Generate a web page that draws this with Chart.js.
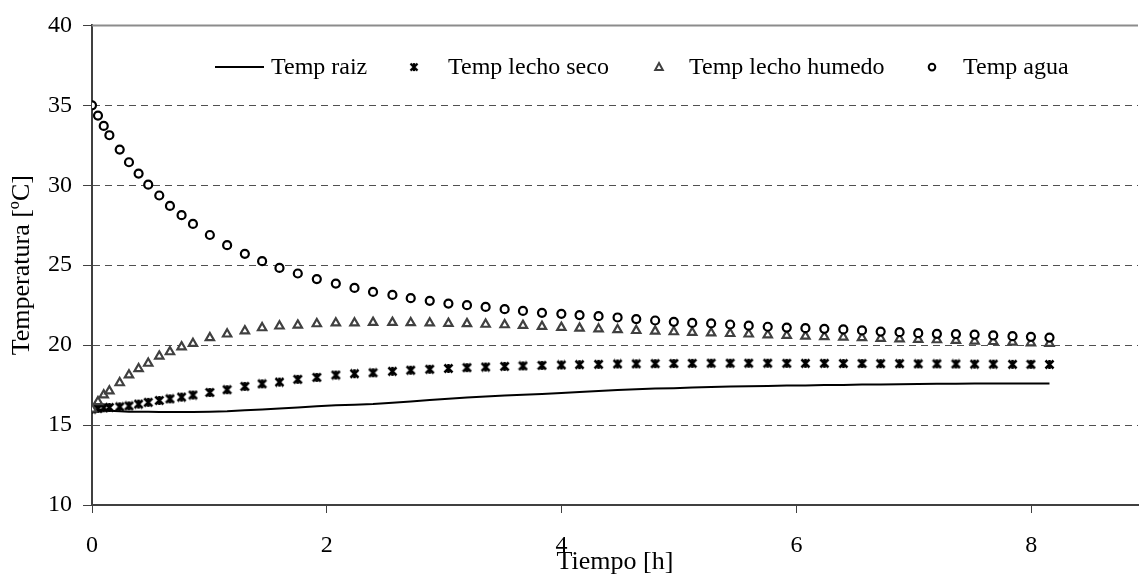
<!DOCTYPE html>
<html>
<head>
<meta charset="utf-8">
<script src="https://cdn.jsdelivr.net/npm/chart.js@4/dist/chart.umd.min.js"></script>
<style>
  html, body { margin: 0; padding: 0; background: #ffffff; overflow: hidden; width: 1139px; height: 576px; }
  #wrap { width: 1145px; height: 576px; position: relative; }
</style>
</head>
<body>
<div id="wrap"><canvas id="c"></canvas></div>
<script>
// ---- data ----
const tiempo = [0, 0.051, 0.10, 0.148, 0.236, 0.315, 0.397, 0.479, 0.573, 0.664, 0.763, 0.86,
  1.004, 1.151, 1.302, 1.449, 1.597, 1.753, 1.915, 2.077, 2.236, 2.394, 2.559, 2.715,
  2.877, 3.036, 3.194, 3.353, 3.515, 3.671, 3.833, 3.998, 4.153, 4.315, 4.477, 4.636,
  4.797, 4.956, 5.113, 5.274, 5.436, 5.594, 5.756, 5.918, 6.077, 6.238, 6.4, 6.559,
  6.718, 6.879, 7.038, 7.197, 7.359, 7.518, 7.677, 7.841, 7.998, 8.156];

const tempRaiz = [16.0, 15.97, 15.93, 15.9, 15.86, 15.84, 15.83, 15.83, 15.82, 15.82, 15.82, 15.82,
  15.83, 15.86, 15.92, 15.98, 16.04, 16.1, 16.17, 16.24, 16.27, 16.32, 16.4, 16.48,
  16.57, 16.64, 16.72, 16.79, 16.85, 16.9, 16.94, 17.0, 17.07, 17.13, 17.2, 17.24,
  17.28, 17.31, 17.35, 17.38, 17.41, 17.43, 17.45, 17.47, 17.48, 17.5, 17.51, 17.53,
  17.54, 17.56, 17.57, 17.58, 17.59, 17.6, 17.6, 17.6, 17.6, 17.6];

const tempLechoSeco = [16.0, 16.04, 16.08, 16.1, 16.14, 16.2, 16.31, 16.42, 16.54, 16.64, 16.75, 16.88,
  17.04, 17.21, 17.42, 17.58, 17.69, 17.86, 17.98, 18.13, 18.21, 18.27, 18.36, 18.43,
  18.49, 18.54, 18.59, 18.63, 18.67, 18.7, 18.73, 18.76, 18.78, 18.8, 18.82, 18.83,
  18.84, 18.85, 18.86, 18.87, 18.87, 18.87, 18.87, 18.86, 18.86, 18.86, 18.85, 18.85,
  18.84, 18.84, 18.83, 18.83, 18.82, 18.81, 18.81, 18.8, 18.8, 18.79];

const tempLechoHumedo = [16.0, 16.46, 16.88, 17.13, 17.64, 18.13, 18.52, 18.86, 19.31, 19.58, 19.89, 20.1,
  20.46, 20.69, 20.89, 21.08, 21.19, 21.25, 21.33, 21.38, 21.38, 21.42, 21.42, 21.4,
  21.38, 21.36, 21.34, 21.3, 21.27, 21.23, 21.17, 21.11, 21.06, 21.01, 20.96, 20.91,
  20.87, 20.83, 20.79, 20.76, 20.72, 20.69, 20.64, 20.6, 20.56, 20.53, 20.5, 20.46,
  20.42, 20.39, 20.36, 20.33, 20.29, 20.25, 20.22, 20.18, 20.14, 20.1];

const tempAgua = [35.0, 34.36, 33.71, 33.13, 32.23, 31.44, 30.73, 30.04, 29.36, 28.71, 28.13, 27.58,
  26.89, 26.25, 25.71, 25.25, 24.83, 24.48, 24.13, 23.85, 23.58, 23.33, 23.14, 22.94,
  22.77, 22.6, 22.5, 22.39, 22.25, 22.14, 22.02, 21.96, 21.88, 21.81, 21.73, 21.63,
  21.54, 21.46, 21.39, 21.36, 21.29, 21.22, 21.15, 21.1, 21.06, 21.02, 20.98, 20.92,
  20.85, 20.81, 20.75, 20.71, 20.69, 20.66, 20.61, 20.56, 20.52, 20.47];

const seriesNames = ['Temp raiz', 'Temp lecho seco', 'Temp lecho humedo', 'Temp agua'];
const xTicks = [0, 2, 4, 6, 8];
const yTicks = [10, 15, 20, 25, 30, 35, 40];
const xTitle = 'Tiempo [h]';
const yTitle = 'Temperatura [ºC]';

// ---- styles ----
const FONT = '"Liberation Serif", "Times New Roman", serif';
const AXIS_COLOR = '#404040';

function makeStar(size, lw, color) {
  const c = document.createElement('canvas');
  c.width = size; c.height = size;
  const g = c.getContext('2d');
  g.strokeStyle = color; g.lineWidth = lw; g.lineCap = 'butt';
  const p = 1.5, q = size - 1.5, m = size / 2;
  g.beginPath();
  g.moveTo(p, p); g.lineTo(q, q);
  g.moveTo(q, p); g.lineTo(p, q);
  g.moveTo(m, p - 0.5); g.lineTo(m, q + 0.5);
  g.stroke();
  return c;
}
const starImg = makeStar(11, 2.5, '#000');
const starLegend = makeStar(10, 2.4, '#000');

const pts = (ys) => tiempo.map((t, i) => ({ x: t, y: ys[i] }));

const legendPlugin = {
  id: 'insideLegend',
  afterDraw(chart) {
    const ctx = chart.ctx, a = chart.chartArea;
    ctx.save();
    // top border of the plot area
    ctx.strokeStyle = '#8c8c8c';
    ctx.lineWidth = 2;
    ctx.beginPath();
    ctx.moveTo(a.left, a.top);
    ctx.lineTo(a.right, a.top);
    ctx.stroke();

    const ly = a.top + 41.7;
    ctx.font = '24px ' + FONT;
    ctx.fillStyle = '#000';
    ctx.textBaseline = 'middle';
    ctx.textAlign = 'left';
    // item 1: line
    ctx.strokeStyle = '#000'; ctx.lineWidth = 2;
    ctx.beginPath(); ctx.moveTo(a.left + 123, ly); ctx.lineTo(a.left + 172, ly); ctx.stroke();
    ctx.fillText(seriesNames[0], a.left + 179, ly + 1);
    // item 2: star
    ctx.drawImage(starLegend, a.left + 322 - 5, ly - 5);
    ctx.fillText(seriesNames[1], a.left + 356, ly + 1);
    // item 3: triangle
    const tx = a.left + 567;
    ctx.strokeStyle = '#404040'; ctx.lineWidth = 2; ctx.fillStyle = '#fff';
    ctx.beginPath();
    ctx.moveTo(tx, ly - 4); ctx.lineTo(tx + 3.8, ly + 3); ctx.lineTo(tx - 3.8, ly + 3); ctx.closePath();
    ctx.fill(); ctx.stroke();
    ctx.fillStyle = '#000';
    ctx.fillText(seriesNames[2], a.left + 597, ly + 1);
    // item 4: circle
    ctx.strokeStyle = '#000'; ctx.fillStyle = '#fff';
    ctx.beginPath(); ctx.arc(a.left + 840, ly, 3.3, 0, Math.PI * 2); ctx.fill(); ctx.stroke();
    ctx.fillStyle = '#000';
    ctx.fillText(seriesNames[3], a.left + 871, ly + 1);
    ctx.restore();
  }
};

new Chart(document.getElementById('c'), {
  type: 'scatter',
  data: {
    datasets: [
      {
        label: seriesNames[0], data: pts(tempRaiz), showLine: true,
        borderColor: '#000', borderWidth: 2, pointRadius: 0, tension: 0, order: 3
      },
      {
        label: seriesNames[1], data: pts(tempLechoSeco), showLine: false,
        pointStyle: starImg, pointRadius: 5, order: 2
      },
      {
        label: seriesNames[2], data: pts(tempLechoHumedo), showLine: false,
        pointStyle: 'triangle', pointRadius: 4.8, borderColor: '#404040',
        backgroundColor: '#fff', pointBorderWidth: 2.2, order: 1
      },
      {
        label: seriesNames[3], data: pts(tempAgua), showLine: false,
        pointStyle: 'circle', pointRadius: 4, borderColor: '#000',
        backgroundColor: '#fff', pointBorderWidth: 2.2, order: 0
      }
    ]
  },
  options: {
    responsive: true,
    maintainAspectRatio: false,
    animation: false,
    layout: { padding: { top: 25, right: 0, left: 0, bottom: 0 } },
    plugins: { legend: { display: false }, tooltip: { enabled: false } },
    scales: {
      x: {
        type: 'linear', min: 0, max: 8.91,
        afterBuildTicks: (s) => { s.ticks = xTicks.map(v => ({ value: v })); },
        afterFit: (s) => { s.height = 71; s.paddingRight = 0; },
        grid: { drawOnChartArea: false, tickLength: 8, tickColor: AXIS_COLOR, tickWidth: 1 },
        border: { display: true, color: AXIS_COLOR, width: 2 },
        ticks: { color: '#000', font: { family: FONT, size: 24 }, padding: 18, maxRotation: 0 },
        title: { display: true, text: xTitle, color: '#000', font: { family: FONT, size: 26 }, padding: { top: 0, bottom: -2 } }
      },
      y: {
        type: 'linear', min: 10, max: 40,
        afterBuildTicks: (s) => { s.ticks = yTicks.map(v => ({ value: v })); },
        afterFit: (s) => { s.width = 92; },
        grid: {
          color: (c) => (c.tick && (c.tick.value === 40 || c.tick.value === 10)) ? 'rgba(0,0,0,0)' : '#505050',
          lineWidth: 1, tickLength: 9, tickColor: AXIS_COLOR, tickWidth: 1, tickBorderDash: []
        },
        border: { display: true, color: AXIS_COLOR, width: 2, dash: [7, 5] },
        ticks: { color: '#000', font: { family: FONT, size: 24 }, padding: 11 },
        title: { display: true, text: yTitle, color: '#000', font: { family: FONT, size: 26 }, padding: { top: 7, bottom: 0 } }
      }
    }
  },
  plugins: [legendPlugin]
});
</script>
</body>
</html>
